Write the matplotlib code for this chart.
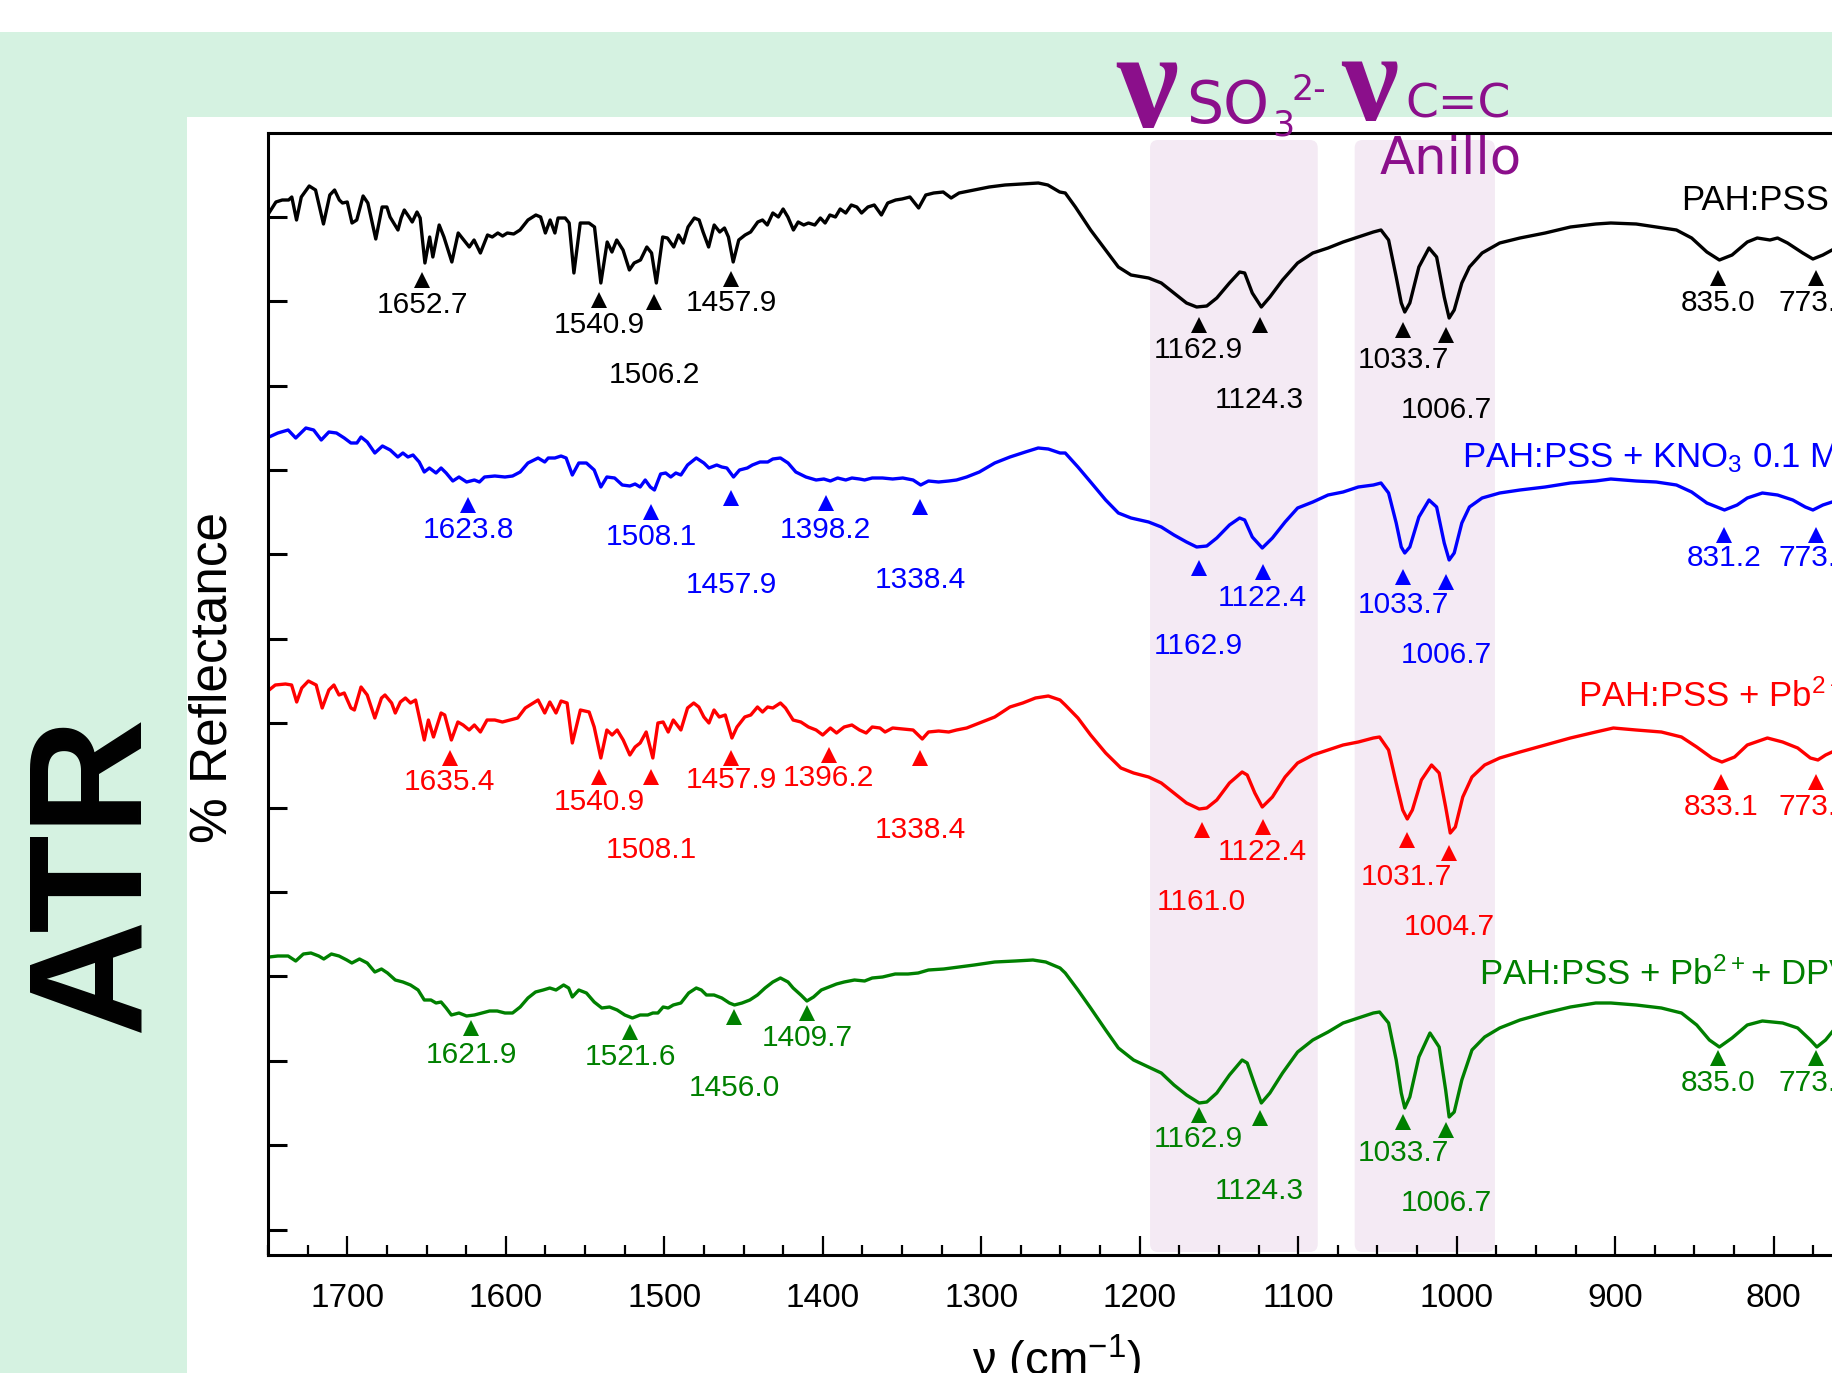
import numpy as np
import matplotlib
matplotlib.use('Agg')
from matplotlib import pyplot as plt
from matplotlib.patches import FancyBboxPatch, Rectangle
from matplotlib.ticker import MultipleLocator

plt.rcParams['font.family'] = ['Liberation Sans', 'DejaVu Sans']

# ATR spectra (wavenumber in cm-1, reflectance in arbitrary offset units)
wn_pss = [1749, 1745, 1741, 1737, 1735, 1732, 1729, 1724, 1720, 1715, 1711, 1708, 1705, 1703, 1700,
          1697, 1694, 1690, 1687, 1682, 1678, 1675, 1673, 1668, 1666, 1664, 1661, 1659, 1656, 1654,
          1651, 1648, 1646, 1642, 1639, 1634, 1630, 1626.5, 1623, 1620, 1616, 1611.5, 1608.5, 1605,
          1602, 1599, 1595, 1591, 1586, 1581, 1578, 1575, 1572, 1569, 1567, 1562.5, 1560, 1557, 1553,
          1547.5, 1544, 1540, 1536, 1533, 1530, 1526, 1522, 1519, 1515, 1511, 1508, 1505, 1501, 1498,
          1494, 1491, 1488, 1485, 1481, 1478, 1475.5, 1472, 1468.5, 1465, 1462, 1459.5, 1456.5, 1453,
          1449, 1445.5, 1441, 1438, 1435, 1431.5, 1428, 1425, 1422, 1418.5, 1415.5, 1412, 1409, 1405,
          1401.5, 1398.5, 1395.5, 1392, 1389, 1385.5, 1382, 1378.5, 1375.5, 1371.5, 1367.5, 1363, 1359,
          1354, 1350, 1345, 1339.5, 1335, 1330, 1324, 1319, 1314, 1304.5, 1295, 1285, 1274, 1264, 1258,
          1250.5, 1247.0, 1240.6, 1231.0, 1221.5, 1213.5, 1205.5, 1194.4, 1186.4, 1178.4, 1170.5,
          1164.1, 1157.7, 1151.4, 1143.4, 1137.0, 1133.8, 1129.0, 1123.3, 1117.9, 1109.9, 1100.4,
          1090.8, 1081.2, 1071.7, 1062.1, 1052.6, 1047.8, 1043.0, 1038.2, 1035.0, 1032.8, 1029.6,
          1023.9, 1017.5, 1012.7, 1007.9, 1004.8, 1001.6, 996.8, 992.0, 984.0, 972.9, 960.1, 944.2,
          928.3, 912.3, 902.8, 886.8, 874.1, 861.4, 851.8, 842.2, 834.3, 826.3, 816.7, 810.4, 802.4,
          797.6, 791.3, 781.7, 775.3, 769.0, 763.2]
r_pss = [104.3, 105.3, 105.5, 105.5, 105.8, 103.5, 105.8, 106.9, 106.5, 103.1, 106.0, 106.5, 105.5,
         105.2, 105.3, 103.2, 103.5, 105.9, 105.2, 101.6, 104.8, 104.8, 103.8, 102.5, 103.7, 104.5,
         103.8, 103.3, 104.3, 103.7, 99.2, 101.8, 99.8, 103.0, 101.8, 99.3, 102.2, 101.5, 100.8, 101.5,
         100.2, 102.0, 101.8, 102.2, 101.9, 102.2, 102.1, 102.5, 103.5, 104.0, 103.8, 102.2, 103.5,
         102.2, 103.7, 103.7, 103.2, 98.2, 103.2, 103.2, 102.8, 97.2, 101.3, 100.3, 101.5, 100.5, 98.5,
         99.2, 99.5, 100.8, 100.2, 97.2, 101.8, 101.7, 100.8, 102.0, 101.2, 102.8, 103.7, 103.5, 102.3,
         100.8, 103.0, 102.3, 102.7, 101.8, 99.3, 101.5, 102.0, 102.3, 103.3, 103.5, 103.0, 104.2,
         103.8, 104.6, 103.8, 102.5, 103.3, 103.0, 103.2, 103.0, 103.7, 103.2, 104.0, 103.8, 104.6,
         104.2, 105.0, 104.8, 104.2, 104.8, 105.0, 104.0, 105.2, 105.5, 105.6, 105.8, 104.7, 106.0,
         106.2, 106.3, 105.7, 106.2, 106.5, 106.8, 107.0, 107.1, 107.2, 107.0, 106.3, 106.2, 104.8,
         102.5, 100.5, 98.8, 98.0, 97.7, 97.2, 96.2, 95.2, 94.8, 94.9, 95.7, 97.2, 98.3, 98.2, 96.2,
         94.8, 95.8, 97.5, 99.2, 100.2, 100.7, 101.3, 101.8, 102.3, 102.5, 101.5, 97.8, 95.2, 94.3,
         95.2, 98.8, 100.7, 99.8, 95.8, 93.7, 94.5, 97.2, 98.8, 100.2, 101.2, 101.7, 102.2, 102.8,
         103.1, 103.2, 103.1, 102.8, 102.5, 101.7, 100.3, 99.5, 100.0, 101.3, 101.7, 101.5, 101.7,
         101.2, 100.2, 99.6, 100.0, 100.5]

wn_kno3 = [1749.3, 1743.8, 1737.3, 1732.5, 1726.1, 1721.2, 1716.4, 1711.6, 1706.8, 1701.9, 1697.7,
           1693.9, 1691.3, 1687.4, 1682.6, 1677.8, 1672.9, 1668.1, 1664.9, 1661.7, 1658.5, 1654.6,
           1651.4, 1648.2, 1644.0, 1640.8, 1637.6, 1633.4, 1629.5, 1624.7, 1619.8, 1616.6, 1613.4,
           1606.9, 1600.5, 1595.7, 1590.9, 1586.0, 1579.6, 1575.4, 1573.2, 1569.0, 1565.1, 1561.9,
           1558.0, 1553.9, 1549.1, 1544.2, 1540.0, 1536.2, 1531.3, 1526.5, 1521.7, 1518.4, 1515.2,
           1512.0, 1508.8, 1506.2, 1502.3, 1499.1, 1495.9, 1492.7, 1489.5, 1485.3, 1479.8, 1475.0,
           1471.8, 1466.9, 1463.7, 1460.5, 1456.3, 1452.5, 1447.6, 1444.4, 1439.6, 1434.7, 1431.5,
           1426.7, 1421.9, 1417.0, 1410.6, 1404.2, 1399.3, 1395.2, 1390.6, 1385.5, 1381.6, 1376.8,
           1373.6, 1368.8, 1362.3, 1355.9, 1349.5, 1343.0, 1338.2, 1333.3, 1326.9, 1320.5, 1315.6,
           1309.2, 1301.2, 1291.5, 1281.9, 1272.2, 1264.1, 1257.7, 1250.3, 1247.0, 1239.0, 1231.0,
           1221.5, 1213.5, 1205.5, 1194.4, 1186.4, 1178.4, 1170.5, 1164.1, 1157.7, 1151.4, 1143.4,
           1137.0, 1133.8, 1129.0, 1122.7, 1116.3, 1108.3, 1100.4, 1090.8, 1081.2, 1071.7, 1062.1,
           1052.6, 1047.8, 1043.0, 1038.2, 1035.0, 1032.8, 1029.6, 1023.9, 1017.5, 1012.7, 1007.9,
           1004.8, 1001.6, 996.8, 992.0, 984.0, 972.9, 960.1, 944.2, 928.3, 912.3, 902.8, 886.8,
           874.1, 861.4, 851.8, 842.2, 831.1, 823.1, 816.7, 807.2, 797.6, 788.0, 780.1, 775.3, 769.0,
           763.2]
r_kno3 = [81.8, 82.2, 82.5, 81.7, 82.7, 82.5, 81.5, 82.3, 82.2, 81.7, 81.2, 81.2, 81.8, 81.3, 80.2,
          80.9, 80.5, 79.8, 80.2, 79.8, 80.0, 79.3, 78.3, 78.7, 78.2, 78.7, 78.2, 77.4, 77.8, 77.3,
          77.5, 77.3, 77.8, 77.9, 77.8, 77.9, 78.3, 79.2, 79.7, 79.3, 79.7, 79.7, 79.9, 79.7, 78.0,
          79.2, 79.2, 78.5, 76.8, 77.8, 77.7, 77.0, 76.9, 77.1, 76.8, 77.5, 76.8, 76.5, 78.1, 78.2,
          77.8, 78.2, 78.0, 79.0, 79.7, 79.2, 78.7, 79.0, 78.8, 78.7, 77.8, 78.5, 78.7, 79.0, 79.3,
          79.3, 79.6, 79.7, 79.2, 78.3, 77.8, 77.5, 77.6, 77.4, 77.7, 77.5, 77.7, 77.6, 77.5, 77.7,
          77.7, 77.6, 77.7, 77.5, 77.0, 77.4, 77.3, 77.4, 77.5, 77.8, 78.3, 79.2, 79.8, 80.3, 80.7,
          80.6, 80.2, 80.2, 78.8, 77.3, 75.5, 74.2, 73.7, 73.3, 72.8, 72.0, 71.3, 70.8, 70.9, 71.7,
          73.0, 73.7, 73.5, 71.8, 70.7, 71.7, 73.3, 74.7, 75.3, 76.0, 76.3, 76.8, 77.0, 77.2, 76.2,
          73.2, 70.8, 70.2, 70.8, 73.8, 75.5, 74.8, 71.2, 69.5, 70.2, 73.2, 74.8, 75.7, 76.2, 76.5,
          76.8, 77.2, 77.4, 77.6, 77.4, 77.3, 77.0, 76.3, 75.2, 74.5, 75.0, 75.7, 76.2, 76.0, 75.5,
          74.8, 74.5, 75.0, 75.3]

wn_pb = [1749.3, 1745.4, 1739.0, 1735.1, 1731.9, 1728.7, 1724.5, 1719.6, 1715.8, 1711.6, 1708.4,
         1705.2, 1701.9, 1697.7, 1695.5, 1691.3, 1687.4, 1682.6, 1678.4, 1676.2, 1672.0, 1669.7,
         1666.5, 1663.3, 1660.1, 1656.9, 1651.4, 1648.8, 1645.6, 1640.8, 1638.5, 1634.3, 1630.2,
         1626.9, 1623.1, 1619.8, 1616.0, 1611.8, 1606.9, 1602.1, 1597.3, 1592.5, 1587.7, 1579.6,
         1575.4, 1572.2, 1568.3, 1565.1, 1561.3, 1558.0, 1552.9, 1547.4, 1544.2, 1540.0, 1536.2,
         1532.9, 1529.7, 1525.9, 1521.7, 1518.4, 1515.2, 1511.4, 1507.2, 1504.0, 1500.7, 1497.5,
         1494.3, 1489.5, 1485.3, 1481.4, 1478.2, 1475.0, 1471.8, 1468.6, 1465.3, 1461.5, 1457.3,
         1454.1, 1449.2, 1445.4, 1441.2, 1438.0, 1434.8, 1431.5, 1426.7, 1423.5, 1418.7, 1413.8,
         1409.0, 1404.2, 1400.0, 1395.2, 1391.3, 1386.5, 1381.6, 1376.8, 1372.6, 1368.8, 1363.9,
         1360.7, 1355.9, 1349.5, 1343.0, 1339.8, 1337.2, 1333.3, 1326.9, 1320.5, 1315.6, 1309.2,
         1301.2, 1291.5, 1281.9, 1273.8, 1265.8, 1257.7, 1250.3, 1247.0, 1239.0, 1231.0, 1221.5,
         1211.9, 1203.9, 1194.4, 1186.4, 1178.4, 1170.5, 1162.5, 1157.7, 1151.4, 1143.4, 1135.4,
         1132.2, 1127.4, 1122.7, 1116.3, 1108.3, 1100.4, 1090.8, 1081.2, 1071.7, 1062.1, 1052.6,
         1048.7, 1043.0, 1038.2, 1034.1, 1031.2, 1028.0, 1022.3, 1015.9, 1011.1, 1007.0, 1004.1,
         1000.9, 996.2, 990.4, 982.4, 972.9, 960.1, 944.2, 928.3, 912.3, 901.2, 886.8, 870.9, 858.2,
         848.6, 839.0, 832.7, 824.7, 816.7, 804.0, 794.4, 784.9, 776.9, 772.1, 767.3, 763.2]
r_pb = [56.5, 57.0, 57.1, 57.0, 55.3, 56.7, 57.4, 57.0, 54.7, 56.5, 57.0, 56.0, 56.2, 54.7, 54.5, 56.8,
        56.0, 53.7, 55.7, 56.0, 55.2, 54.2, 55.3, 55.7, 55.2, 55.5, 51.5, 53.5, 51.8, 54.2, 54.0, 51.5,
        53.3, 53.0, 52.5, 53.0, 52.3, 53.5, 53.5, 53.3, 53.5, 53.7, 54.7, 55.5, 54.2, 55.3, 54.2, 55.4,
        55.2, 51.2, 54.5, 54.3, 52.8, 49.7, 52.5, 52.0, 52.5, 51.5, 50.0, 50.8, 51.2, 52.3, 49.7, 53.2,
        53.3, 52.3, 53.5, 52.5, 54.7, 55.2, 54.8, 53.8, 53.2, 54.5, 53.8, 54.0, 51.7, 52.8, 53.8, 54.0,
        54.8, 54.3, 54.8, 54.7, 55.2, 54.7, 53.5, 53.3, 52.8, 52.5, 52.0, 52.7, 52.2, 52.8, 53.0, 52.5,
        52.2, 52.8, 52.7, 52.3, 52.7, 52.6, 52.5, 52.0, 51.6, 52.3, 52.4, 52.3, 52.5, 52.7, 53.2, 53.8,
        54.8, 55.2, 55.7, 55.9, 55.5, 55.0, 53.7, 52.0, 50.2, 48.7, 48.2, 47.8, 47.2, 46.2, 45.2, 44.6,
        44.7, 45.5, 47.2, 48.3, 48.0, 46.2, 44.8, 45.8, 47.8, 49.2, 50.0, 50.5, 51.0, 51.3, 51.7, 51.8,
        50.5, 47.2, 44.5, 43.6, 44.5, 47.5, 49.0, 48.2, 44.8, 42.2, 42.8, 45.8, 47.8, 49.0, 49.7, 50.3,
        51.0, 51.7, 52.3, 52.7, 52.5, 52.3, 51.8, 50.8, 49.7, 49.3, 49.8, 51.0, 51.7, 51.3, 50.7, 49.7,
        49.5, 50.0, 50.3]

wn_dpv = [1749.3, 1743.8, 1737.3, 1732.5, 1727.7, 1722.9, 1718.0, 1714.8, 1710.0, 1705.2, 1700.3,
          1697.1, 1692.3, 1687.4, 1682.6, 1678.4, 1674.6, 1669.7, 1664.9, 1660.1, 1655.3, 1651.4,
          1647.2, 1644.0, 1640.8, 1637.6, 1634.3, 1629.5, 1624.7, 1619.8, 1615.0, 1610.2, 1605.4,
          1600.5, 1595.7, 1590.9, 1586.0, 1581.2, 1576.4, 1572.2, 1568.3, 1563.5, 1560.3, 1558.0,
          1553.9, 1549.1, 1544.2, 1539.4, 1534.5, 1529.7, 1524.9, 1520.1, 1515.2, 1510.4, 1507.2,
          1504.0, 1500.7, 1497.5, 1494.3, 1489.5, 1484.6, 1479.8, 1476.6, 1473.4, 1468.6, 1463.7,
          1458.9, 1455.7, 1450.9, 1446.0, 1441.2, 1436.4, 1431.5, 1426.7, 1421.9, 1418.7, 1413.8,
          1410.0, 1405.8, 1400.9, 1396.1, 1391.3, 1386.5, 1380.0, 1373.6, 1368.8, 1362.3, 1354.3,
          1346.2, 1339.8, 1333.3, 1323.7, 1314.0, 1304.4, 1291.5, 1278.6, 1267.4, 1259.3, 1250.3,
          1247.0, 1239.0, 1231.0, 1221.5, 1213.5, 1203.9, 1194.4, 1186.4, 1178.4, 1170.5, 1162.5,
          1157.7, 1151.4, 1143.4, 1135.4, 1132.2, 1127.4, 1123.3, 1117.9, 1109.9, 1100.4, 1090.8,
          1081.2, 1071.7, 1062.1, 1052.6, 1048.7, 1043.0, 1038.2, 1035.0, 1032.8, 1029.6, 1023.9,
          1016.9, 1011.1, 1007.0, 1004.8, 1001.6, 996.8, 990.4, 982.4, 972.9, 960.1, 944.2, 928.3,
          912.3, 902.8, 886.8, 870.9, 858.2, 848.6, 840.6, 834.3, 826.3, 816.7, 807.2, 794.4, 784.9,
          776.9, 772.8, 767.3, 763.2]
r_dpv = [29.8, 29.9, 29.9, 29.4, 30.1, 30.2, 29.9, 29.6, 30.1, 29.9, 29.5, 29.2, 29.6, 29.2, 28.3,
         28.6, 28.2, 27.5, 27.3, 27.0, 26.5, 25.5, 25.5, 25.2, 25.3, 24.7, 24.0, 24.2, 23.9, 24.0, 24.2,
         24.4, 24.4, 24.2, 24.2, 24.8, 25.7, 26.3, 26.5, 26.7, 26.5, 27.0, 26.7, 25.8, 26.5, 26.2, 25.3,
         24.7, 24.8, 24.5, 24.0, 23.7, 24.0, 24.0, 24.2, 24.2, 24.8, 24.7, 25.0, 25.2, 26.2, 26.7, 26.5,
         26.0, 26.0, 25.7, 25.2, 25.0, 25.2, 25.5, 26.0, 26.7, 27.3, 27.7, 27.3, 26.7, 26.0, 25.4, 25.8,
         26.5, 26.8, 27.1, 27.3, 27.5, 27.4, 27.7, 27.8, 28.1, 28.1, 28.2, 28.5, 28.6, 28.8, 29.0, 29.3,
         29.4, 29.5, 29.3, 28.7, 28.2, 26.5, 24.7, 22.5, 20.7, 19.5, 18.8, 18.2, 17.0, 16.0, 15.2, 15.3,
         16.2, 18.0, 19.5, 19.2, 17.0, 15.2, 16.2, 18.2, 20.3, 21.5, 22.3, 23.2, 23.7, 24.2, 24.3, 23.2,
         19.5, 16.2, 14.7, 15.8, 19.8, 22.2, 20.8, 16.5, 13.8, 14.3, 17.5, 20.5, 21.8, 22.7, 23.5, 24.2,
         24.8, 25.2, 25.2, 25.0, 24.7, 24.2, 23.0, 21.5, 20.8, 21.7, 23.0, 23.4, 23.2, 22.7, 21.5, 20.8,
         21.5, 22.3]

# marked bands: wavenumber, height of the triangle, height of the number
pk_pss = [1652.7, 1540.9, 1506.2, 1457.9, 1162.9, 1124.3, 1033.7, 1006.7, 835.0, 773.3]
tri_pss = [97.5, 95.5, 95.3, 97.6, 93.0, 93.0, 92.5, 92.0, 97.7, 97.7]
lab_pss = [95.0, 93.0, 88.0, 95.2, 90.5, 85.5, 89.5, 84.5, 95.2, 95.2]

pk_kno3 = [1623.8, 1508.1, 1457.9, 1398.2, 1338.4, 1162.9, 1122.4, 1033.7, 1006.7, 831.2, 773.3]
tri_kno3 = [75.0, 74.3, 75.7, 75.2, 74.8, 68.7, 68.3, 67.8, 67.3, 72.0, 72.0]
lab_kno3 = [72.5, 71.8, 67.0, 72.5, 67.5, 60.9, 65.7, 65.0, 60.0, 69.7, 69.7]

pk_pb = [1635.4, 1540.9, 1508.1, 1457.9, 1396.2, 1338.4, 1161.0, 1122.4, 1031.7, 1004.7, 833.1, 773.3]
tri_pb = [49.7, 47.8, 47.8, 49.7, 50.0, 49.7, 42.5, 42.8, 41.5, 40.2, 47.3, 47.3]
lab_pb = [47.3, 45.3, 40.5, 47.5, 47.7, 42.5, 35.3, 40.3, 37.8, 32.8, 44.8, 44.8]

pk_dpv = [1621.9, 1521.6, 1456.0, 1409.7, 1162.9, 1124.3, 1033.7, 1006.7, 835.0, 773.3]
tri_dpv = [22.7, 22.3, 23.8, 24.2, 14.0, 13.7, 13.3, 12.5, 19.7, 19.7]
lab_dpv = [20.0, 19.8, 16.7, 21.7, 11.6, 6.4, 10.2, 5.2, 17.2, 17.2]

names = ['PAH:PSS',
         r'PAH:PSS + KNO$\mathregular{_3}$ 0.1 M',
         r'PAH:PSS + Pb$\mathregular{^{2+}}$',
         r'PAH:PSS + Pb$\mathregular{^{2+}}$+ DPV']
name_pos = [(858.3, 104.5), (996.9, 78.8), (923.5, 54.8), (985.7, 27.0)]
colors = ['black', '#0000ff', '#ff0000', '#008000']

bands = [(1193.5, 1087.7), (1064.4, 975.9)]

W, H = 1832, 1373
purple = '#8b0f8b'


def fx(px):
    return px / W


def fy(py):
    return 1 - py / H


fig = plt.figure(figsize=(W / 100, H / 100), dpi=100)
fig.patch.set_facecolor('#d5f2e1')
fig.add_artist(Rectangle((0, fy(32)), 1, 1, transform=fig.transFigure,
                         facecolor='white', edgecolor='none', zorder=-5))
fig.add_artist(Rectangle((fx(187), 0), 1, fy(117), transform=fig.transFigure,
                         facecolor='white', edgecolor='none', zorder=-5))

ax = fig.add_axes([fx(268), fy(1255), 1050 * 1.585 / W, 1122 / H])
ax.set_facecolor('white')
ax.set_xlim(1750, 700)
ax.set_ylim(0, 112.2)

for x1, x0 in bands:
    ax.add_patch(FancyBboxPatch((x0, 0.3), x1 - x0, 111.2,
                                boxstyle='round,pad=0,rounding_size=5',
                                mutation_aspect=0.16, facecolor='#f4eaf4',
                                edgecolor='none', zorder=0.5))

spectra = [(wn_pss, r_pss, pk_pss, tri_pss, lab_pss),
           (wn_kno3, r_kno3, pk_kno3, tri_kno3, lab_kno3),
           (wn_pb, r_pb, pk_pb, tri_pb, lab_pb),
           (wn_dpv, r_dpv, pk_dpv, tri_dpv, lab_dpv)]

for (wn, r, pk, tri, lab), c, name, (nx, ny) in zip(spectra, colors, names, name_pos):
    ax.plot(wn, r, color=c, lw=2.4, zorder=2)
    ax.plot(pk, tri, '^', color=c, ms=11, mew=0, zorder=3)
    for p, ly in zip(pk, lab):
        ax.text(p, ly, '%.1f' % p, color=c, fontsize=21.5, ha='center', va='center')
    ax.text(nx, ny, name, color=c, fontsize=25, ha='left', va='baseline')

for s in ['left', 'bottom', 'top']:
    ax.spines[s].set_linewidth(2.2)
ax.spines['right'].set_visible(False)

ax.xaxis.set_major_locator(MultipleLocator(100))
ax.xaxis.set_minor_locator(MultipleLocator(25))
ax.set_yticks(np.linspace(2.55, 103.83, 13))
ax.set_yticklabels([])
ax.tick_params(axis='x', which='major', direction='in', length=14, width=1.6,
               labelsize=24, pad=20, top=False)
ax.tick_params(axis='x', which='minor', direction='in', length=7, width=1.6, top=False)
ax.tick_params(axis='y', direction='in', length=14, width=2.2, right=False)

fig.text(fx(1057), fy(1360), r'ν (cm$\mathregular{^{-1}}$)', fontsize=34,
         ha='center', va='center')
fig.text(fx(213), fy(677), '% Reflectance', fontsize=37, rotation=90,
         ha='center', va='center')
fig.text(fx(96), fy(872), 'ATR', fontsize=116, fontweight='bold', rotation=90,
         ha='center', va='center')

# band assignments above the plot
fig.text(fx(1116), fy(127), 'ν', family='Liberation Serif', fontweight='bold',
         fontsize=100, color=purple, ha='left', va='baseline')
fig.text(fx(1186), fy(123), 'SO', family='DejaVu Sans', fontsize=42,
         color=purple, ha='left', va='baseline')
fig.text(fx(1272), fy(135), '3', family='DejaVu Sans', fontsize=25,
         color=purple, ha='left', va='baseline')
fig.text(fx(1292), fy(100), '2-', family='DejaVu Sans', fontsize=25,
         color=purple, ha='left', va='baseline')
fig.text(fx(1341), fy(120), 'ν', family='Liberation Serif', fontweight='bold',
         fontsize=92, color=purple, ha='left', va='baseline')
fig.text(fx(1405), fy(117), 'C=C', family='DejaVu Sans', fontsize=34,
         color=purple, ha='left', va='baseline')
fig.text(fx(1380), fy(174), 'Anillo', family='DejaVu Sans', fontsize=37,
         color=purple, ha='left', va='baseline')

fig.savefig('out.png', dpi=100, facecolor=fig.get_facecolor())
